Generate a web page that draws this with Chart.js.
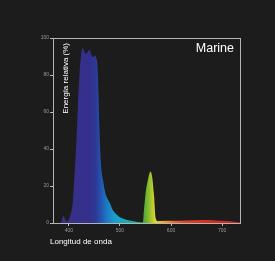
<!DOCTYPE html>
<html>
<head>
<meta charset="utf-8">
<script src="https://cdn.jsdelivr.net/npm/chart.js@4"></script>
<style>
  html, body { margin: 0; padding: 0; background: #1c1c1c; }
  #wrap { width: 275px; height: 261px; }
</style>
</head>
<body>
<div id="wrap"><canvas id="espectro" width="275" height="261"></canvas></div>
<script>
var longitudes = [369, 380, 385, 387, 389, 391, 394, 397, 400, 404, 408, 412, 415, 418, 421, 424, 427, 430, 433, 437, 441, 444, 446, 449, 451, 454, 456, 458, 460, 462, 464, 467, 470, 474, 480, 486, 494, 503, 519, 535, 545, 547, 549, 551, 553, 556, 558, 560, 562, 564, 566, 567, 568, 569, 571, 574, 580, 600, 630, 660, 690, 710, 725, 735];
var energia =    [0,   0,   0.3, 2,   4,   3.2, 1.2, 0.8, 2,   5,   12,  30,  45,  65,  81,  91,  94.5,93,  91.5,92.5,93.6,91,  89.7,90,  90.5,89,  85,  70,  50,  36,  28,  23,  18,  14,  11,  7,   4.5, 2.7, 1.4, 0.6, 0.3, 7,   13,  18,  21,  25,  27,  27.8,26.5,23,  17,  14,  9,   4.5, 1.8, 1,   1.1, 1.2, 1.4, 1.6, 1.4, 1.1, 0.7, 0.3];
var ticksX = [400, 500, 600, 700];
var ticksY = [0, 20, 40, 60, 80, 100];

// colores del espectro por longitud de onda
var paradas = [
  [380, '#3a2f86'], [440, '#33308c'], [452, '#2f3894'], [462, '#2452ac'],
  [475, '#1c7cc2'], [490, '#1a9ccc'], [510, '#1aaab8'], [535, '#1fae98'],
  [546, '#4aa83a'], [556, '#86bb30'], [564, '#bccd2c'], [572, '#ecdc2a'],
  [585, '#f2a82a'], [605, '#ec6a2a'], [630, '#e0402a'], [680, '#d42c22'], [735, '#c42620']
];

var puntos = longitudes.map(function (x, i) { return { x: x, y: energia[i] }; });

function gradiente(ctx) {
  var chart = ctx.chart;
  var area = chart.chartArea;
  if (!area) return '#33308c';
  var sx = chart.scales.x;
  var g = chart.ctx.createLinearGradient(area.left, 0, area.right, 0);
  paradas.forEach(function (p) {
    var t = (sx.getPixelForValue(p[0]) - area.left) / (area.right - area.left);
    g.addColorStop(Math.min(1, Math.max(0, t)), p[1]);
  });
  return g;
}

var textos = {
  id: 'textos',
  afterDatasetsDraw: function (chart) {
    var c = chart.ctx, a = chart.chartArea;
    c.save();
    c.strokeStyle = '#b4b4b4';
    c.lineWidth = 1;
    c.strokeRect(Math.round(a.left) + 0.5, Math.round(a.top) + 0.5, Math.round(a.right - a.left), Math.round(a.bottom - a.top));
    c.fillStyle = '#ffffff';
    c.font = '12.5px "Liberation Sans", Arial, sans-serif';
    c.textAlign = 'right';
    c.textBaseline = 'middle';
    c.fillText('Marine', a.right - 6, a.top + 11);
    c.font = '8px "Liberation Sans", Arial, sans-serif';
    c.translate(a.left + 12.5, a.top + 5);
    c.rotate(-Math.PI / 2);
    c.textAlign = 'right';
    c.fillText('Energía relativa (%)', 0, 0);
    c.restore();
    c.save();
    c.fillStyle = '#ffffff';
    c.font = '8px "Liberation Sans", Arial, sans-serif';
    c.textAlign = 'left';
    c.textBaseline = 'middle';
    c.fillText('Longitud de onda', a.left - 3, a.bottom + 18.5);
    c.restore();
  }
};

new Chart('espectro', {
  type: 'line',
  data: {
    datasets: [{
      data: puntos,
      fill: 'origin',
      backgroundColor: gradiente,
      borderWidth: 0,
      pointRadius: 0,
      cubicInterpolationMode: 'monotone'
    }]
  },
  options: {
    responsive: false,
    animation: false,
    layout: { padding: { left: 20, right: 35, top: 38, bottom: 24 } },
    plugins: { legend: { display: false }, tooltip: { enabled: false } },
    scales: {
      x: {
        type: 'linear', min: 369, max: 735,
        afterBuildTicks: function (s) { s.ticks = ticksX.map(function (v) { return { value: v }; }); },
        afterFit: function (s) { s.height = 14; },
        grid: { drawOnChartArea: false, tickLength: 3, color: '#bbbbbb' },
        border: { display: false },
        ticks: { color: '#9a9a9a', font: { size: 5, family: 'Liberation Sans' }, padding: 2, maxRotation: 0 }
      },
      y: {
        min: 0, max: 100,
        afterBuildTicks: function (s) { s.ticks = ticksY.map(function (v) { return { value: v }; }); },
        afterFit: function (s) { s.width = 33; },
        grid: { drawOnChartArea: false, tickLength: 3, color: '#bbbbbb' },
        border: { display: false },
        ticks: { color: '#9a9a9a', font: { size: 5, family: 'Liberation Sans' }, padding: 1 }
      }
    }
  },
  plugins: [textos]
});
</script>
</body>
</html>
